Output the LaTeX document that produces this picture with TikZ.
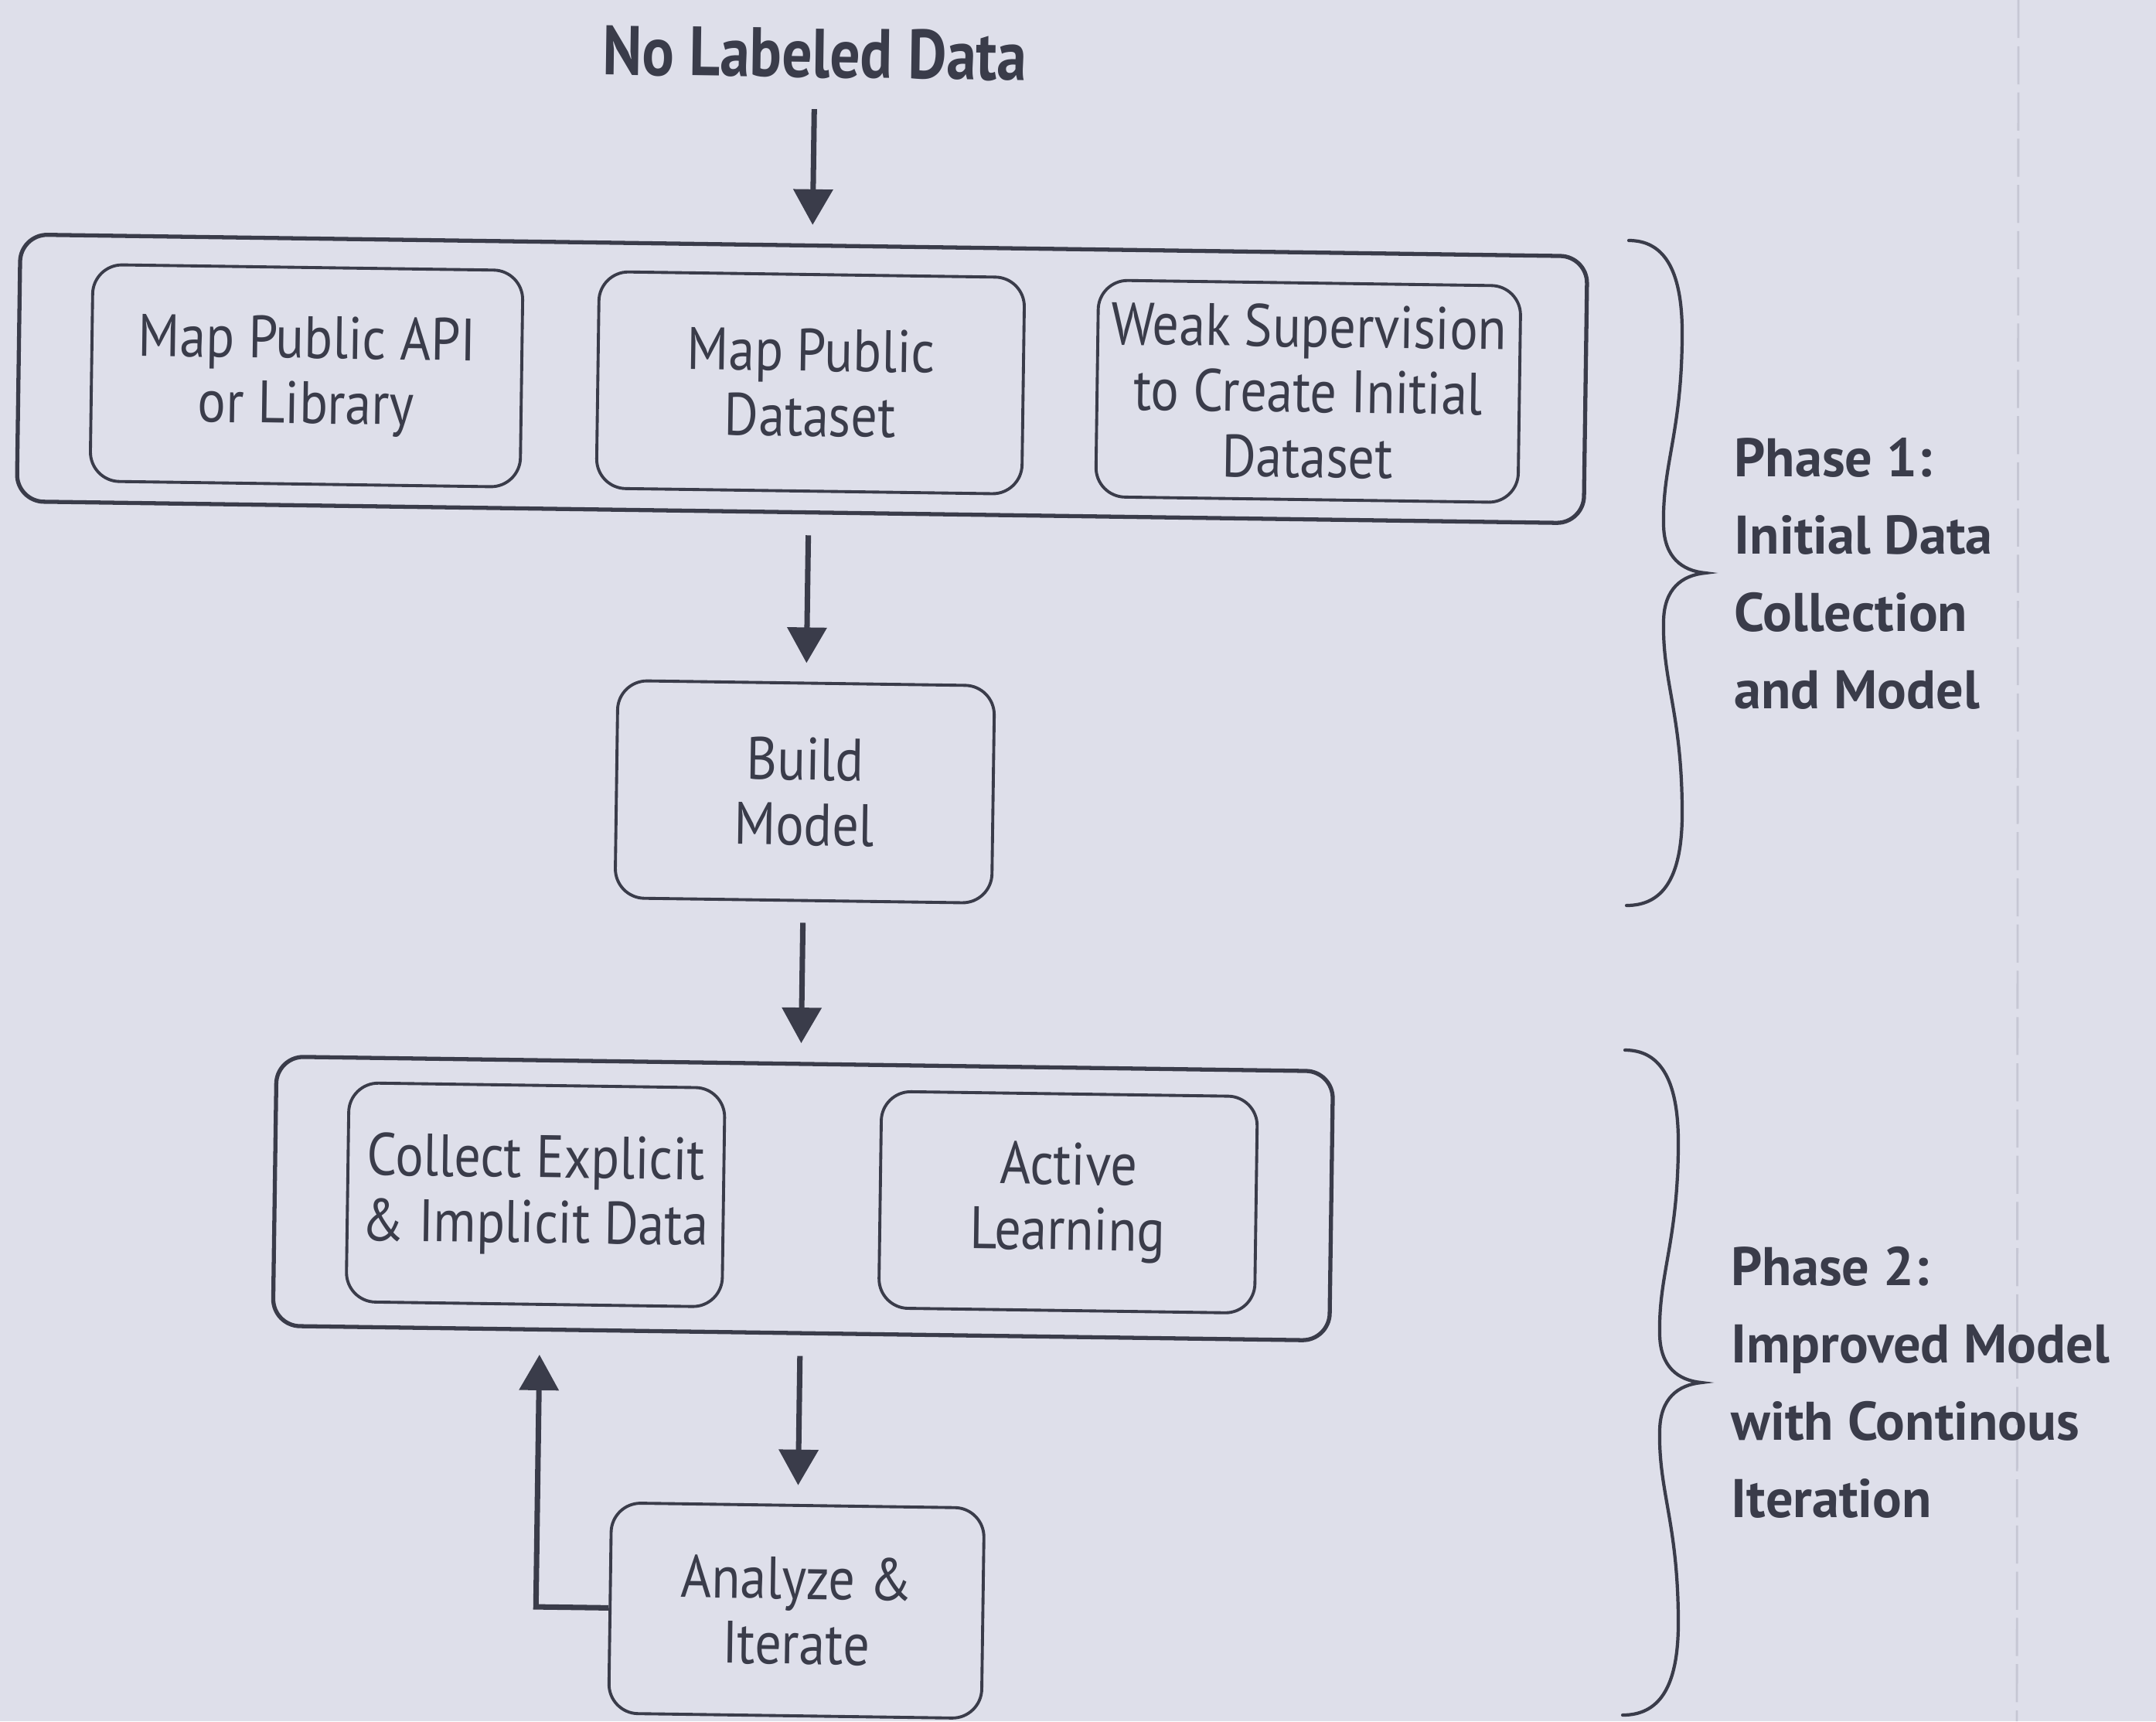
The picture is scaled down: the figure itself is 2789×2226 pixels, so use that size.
\documentclass[tikz,border=0pt]{standalone}
\usepackage{fontspec}
\setmainfont{PT Sans}
\newfontfamily\condfont[FakeStretch=0.88]{PT Sans}
\newfontfamily\headfont[FakeStretch=0.86]{PT Sans}
\usetikzlibrary{arrows.meta}
\definecolor{paper}{RGB}{222,223,234}
\definecolor{ink}{RGB}{58,60,74}
\definecolor{gutter}{RGB}{198,199,212}

\begin{document}
\begin{tikzpicture}[x=0.01cm, y=-0.01cm,
  boxtext/.style={font=\condfont\fontsize{22}{24}\selectfont, text=ink, align=center},
  stage/.style={boxtext, draw=ink, line width=1.1pt, rounded corners=0.38cm,
    inner sep=0pt, minimum height=2.8cm},
  group/.style={draw=ink, line width=1.5pt, rounded corners=0.35cm, inner sep=0pt},
  flow/.style={draw=ink, line width=2pt, -{Triangle[width=0.5cm,length=0.46cm]},
    shorten <=0.27cm, shorten >=0.24cm},
  phase/.style={font=\bfseries\fontsize{20}{28.4}\selectfont, text=ink, align=left,
    inner sep=0pt, anchor=north west},
  curly/.style={draw=ink, line width=1.2pt, line cap=round},
  phasebrace/.pic={
    \draw[curly] (0,0) .. controls (43,0) and (69,34) .. (69,119)
      .. controls (69,249) and (43,289) .. (45,369)
      .. controls (46,409) and (68,427) .. (99,430)
      .. controls (68,433) and (46,451) .. (45,491)
      .. controls (43,571) and (69,611) .. (69,741)
      .. controls (69,826) and (43,860) .. (-3,860);
  }
]
% page
\fill[paper] (0,0) rectangle (2789,2226);
\useasboundingbox (0,0) rectangle (2789,2226);
\draw[gutter, line width=0.8pt, dash pattern=on 14pt off 3pt] (2611,0) -- (2609,2226);

% flow chart
\begin{scope}[rotate around={-0.8:(1040,1100)}, transform shape]
  \node[font=\headfont\bfseries\fontsize{25.6}{28}\selectfont, text=ink,
        inner sep=0pt, anchor=base] (title) at (1040,100) {No Labeled Data};

  \node[group, minimum width=20.26cm, minimum height=3.45cm] (top) at (1029,490) {};
  \node[stage, minimum width=5.56cm] (api) at (388,495) {Map Public API\\or Library};
  \node[stage, minimum width=5.50cm] (pubdata) at (1040,495) {Map Public\\Dataset};
  \node[stage, minimum width=5.46cm] (weak) at (1684,497) {Weak Supervision\\to Create Initial\\Dataset};

  \node[stage, minimum width=4.87cm, minimum height=2.81cm] (build) at (1040,1024) {Build\\Model};

  \node[group, minimum width=13.66cm, minimum height=3.48cm] (bottom) at (1045,1550) {};
  \node[stage, minimum width=4.86cm, minimum height=2.83cm] (collect) at (699,1550) {Collect Explicit\\\& Implicit Data};
  \node[stage, minimum width=4.86cm] (active) at (1388,1550) {Active\\Learning};

  \node[stage, minimum width=4.82cm, minimum height=2.72cm] (analyze) at (1044,2083) {Analyze \&\\Iterate};
  \coordinate (loopx) at (707,1900);

  \draw[flow, shorten <=0.39cm] (title.south) -- (title.south |- top.north);
  \draw[flow] (top.south -| build.north) -- (build.north);
  \draw[flow] (build.south) -- (build.south |- bottom.north);
  \draw[flow] (bottom.south -| analyze.north) -- (analyze.north);
  \draw[flow, shorten <=0pt, shorten >=0.3cm] (analyze.west) -| (loopx |- bottom.south);
\end{scope}

% phases
\pic at (2107,311) {phasebrace};
\pic at (2102,1358) {phasebrace};
\node[phase] (phaseone) at (2243,566) {Phase 1:\\Initial Data\\Collection\\and Model};
\node[phase] (phasetwo) at (2239,1612) {Phase 2:\\Improved Model\\with Continous\\Iteration};
\end{tikzpicture}
\end{document}
